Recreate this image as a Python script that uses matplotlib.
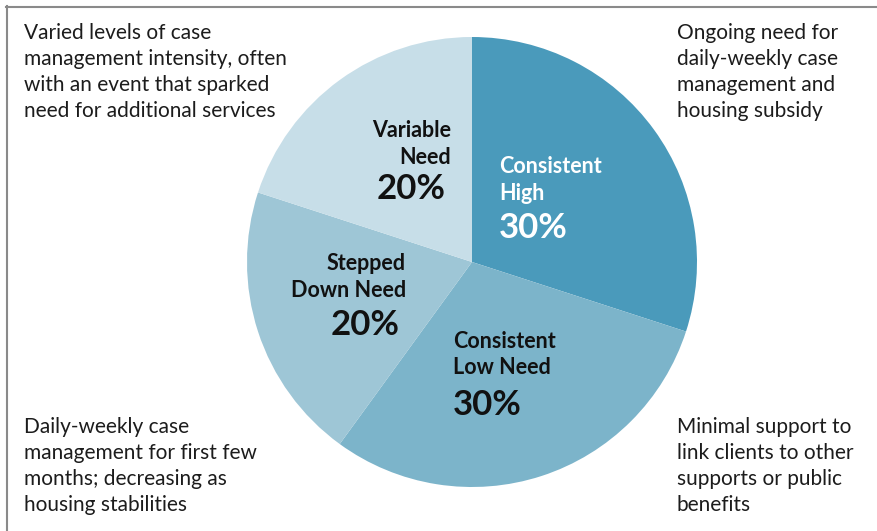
import matplotlib
matplotlib.use("Agg")
import matplotlib.pyplot as plt
from matplotlib.lines import Line2D

# ---- data ----
segments = ["Consistent\nHigh", "Consistent\nLow Need", "Stepped\nDown Need", "Variable\nNeed"]
shares = [30, 30, 20, 20]
colors = ["#4A9ABB", "#7CB4CA", "#9EC6D6", "#C7DEE8"]
descriptions = [
    "Ongoing need for\ndaily-weekly case\nmanagement and\nhousing subsidy",
    "Minimal support to\nlink clients to other\nsupports or public\nbenefits",
    "Daily-weekly case\nmanagement for first few\nmonths; decreasing as\nhousing stabilities",
    "Varied levels of case\nmanagement intensity, often\nwith an event that sparked\nneed for additional services",
]

W, H = 878, 531
FONT = ["Lato", "DejaVu Sans"]

fig = plt.figure(figsize=(W / 100, H / 100), dpi=100)
ax = fig.add_axes([0, 0, 1, 1])

def Y(py):
    return H - py

ax.pie(shares, colors=colors, startangle=90, counterclock=False,
       center=(472, Y(262)), radius=225, frame=True,
       wedgeprops=dict(linewidth=0))
ax.set_xlim(0, W)
ax.set_ylim(0, H)
ax.set_aspect("equal")
ax.axis("off")

# border lines (top and left)
fig.add_artist(Line2D([6 / W, 1], [1 - 7 / H, 1 - 7 / H], color="#8a8a8a", lw=1.5))
fig.add_artist(Line2D([7 / W, 7 / W], [0, 1 - 6 / H], color="#8a8a8a", lw=1.5))

# segment labels: (name-lines anchor x, ha, first line y, pct x, pct ha, pct y, color)
label_layout = [
    (499, "left", 166, 499, "left", 228, "white"),
    (453, "left", 341, 453, "left", 405, "#111111"),
    (406, "right", 263, 400, "right", 325, "#111111"),
    (451, "right", 130, 446, "right", 189, "#111111"),
]
for name, share, (lx, lha, ly, px, pha, py, c) in zip(segments, shares, label_layout):
    lines = name.split("\n")
    for i, ln in enumerate(lines):
        ax.text(lx, Y(ly + 27 * i), ln, ha=lha, va="center", fontsize=15.5,
                fontweight="bold", color=c, family=FONT)
    ax.text(px, Y(py), f"{share}%", ha=pha, va="center", fontsize=25,
            fontweight="bold", color=c, family=FONT)

# descriptions: top-right, bottom-right, bottom-left, top-left
desc_pos = [(677, 33), (677, 427), (24, 427), (24, 33)]
for txt, (x, y0) in zip(descriptions, desc_pos):
    for i, ln in enumerate(txt.split("\n")):
        ax.text(x, Y(y0 + 26 * i), ln, ha="left", va="center", fontsize=15,
                color="#1c1c1c", family=FONT)

fig.savefig("out.png", dpi=100)
